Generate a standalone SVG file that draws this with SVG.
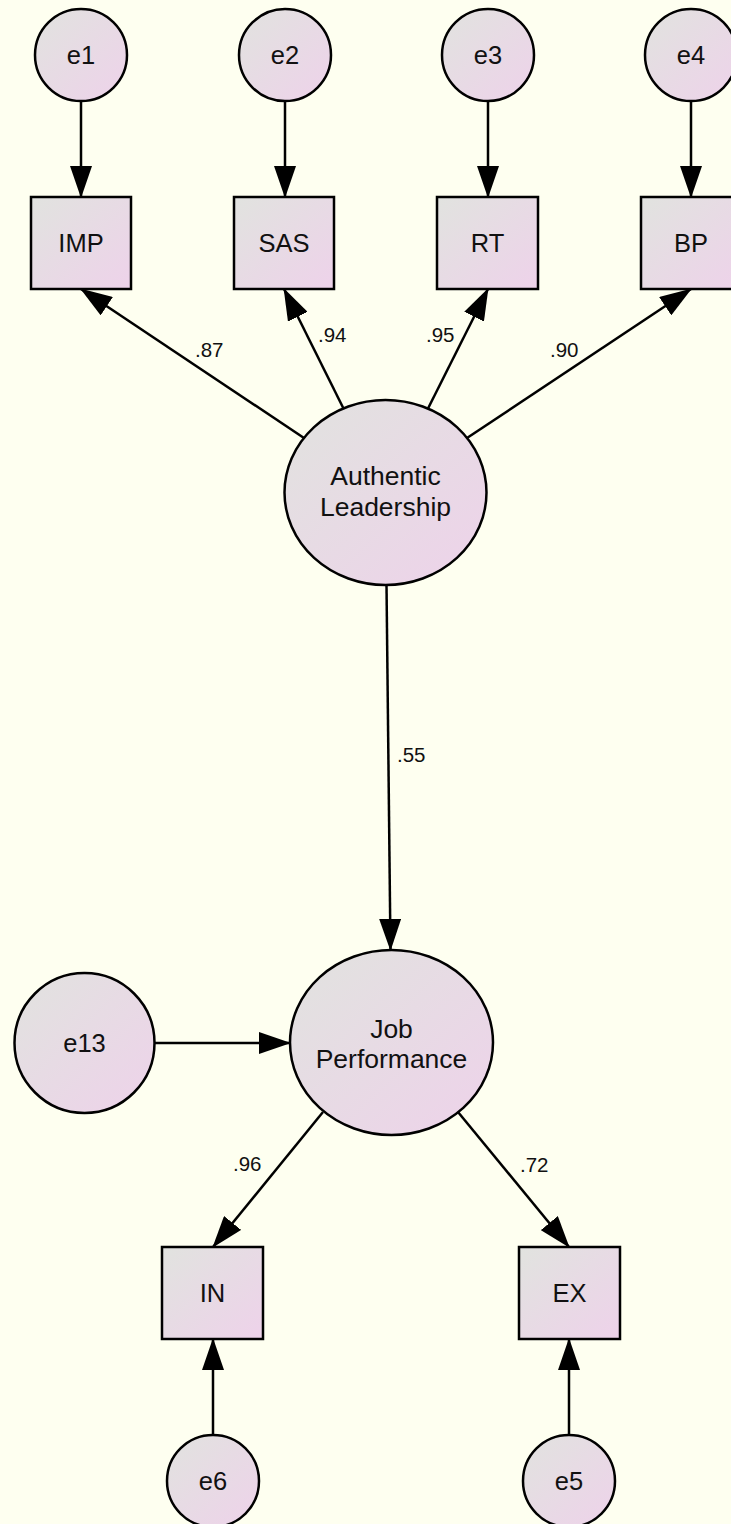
<svg xmlns="http://www.w3.org/2000/svg" width="731" height="1524" viewBox="0 0 731 1524">
<defs>
<linearGradient id="fill" x1="0" y1="0" x2="1" y2="1">
<stop offset="0" stop-color="#E1E3DF"/>
<stop offset="1" stop-color="#EED2EA"/>
</linearGradient>
<marker id="arr" markerUnits="userSpaceOnUse" markerWidth="32" markerHeight="22" viewBox="0 0 32 22" refX="31" refY="11" orient="auto">
<path d="M0,0 L32,11 L0,22 z" fill="#000"/>
</marker>
</defs>
<style>
.n{fill:url(#fill);stroke:#000;stroke-width:2.5}
.t{font-family:"Liberation Sans",Arial,sans-serif;font-size:25.5px;fill:#111;text-anchor:middle}
.lt{font-family:"Liberation Sans",Arial,sans-serif;font-size:26.5px;fill:#111;text-anchor:middle}
.w{font-family:"Liberation Sans",Arial,sans-serif;font-size:20.5px;fill:#111}
.c{stroke:#000;stroke-width:2.5;fill:none;marker-end:url(#arr)}
</style>
<rect width="731" height="1524" fill="#FEFFF0"/>
<g id="connectors">
<line class="c" x1="81" y1="101" x2="81" y2="197"/>
<line class="c" x1="285" y1="101" x2="285" y2="197"/>
<line class="c" x1="488" y1="101" x2="488" y2="197"/>
<line class="c" x1="691" y1="101" x2="691" y2="197"/>
<line class="c" x1="304" y1="438" x2="81" y2="289"/>
<line class="c" x1="343.5" y1="408.5" x2="284" y2="289"/>
<line class="c" x1="428" y1="408.5" x2="488" y2="289"/>
<line class="c" x1="467" y1="438" x2="691" y2="289"/>
<line class="c" x1="386.5" y1="585" x2="390.5" y2="950"/>
<line class="c" x1="154.5" y1="1043" x2="290" y2="1043"/>
<line class="c" x1="323" y1="1112" x2="213" y2="1247"/>
<line class="c" x1="458" y1="1112" x2="569" y2="1247"/>
<line class="c" x1="213" y1="1435" x2="213" y2="1339"/>
<line class="c" x1="569" y1="1435" x2="569" y2="1339"/>
<text class="w" x="195" y="357">.87</text>
<text class="w" x="318" y="342">.94</text>
<text class="w" x="426" y="342">.95</text>
<text class="w" x="550" y="357">.90</text>
<text class="w" x="397" y="762">.55</text>
<text class="w" x="233" y="1171">.96</text>
<text class="w" x="520" y="1172">.72</text>
</g>
<g id="e1"><circle class="n" cx="81" cy="55" r="46"/><text class="t" x="81" y="64">e1</text></g>
<g id="e2"><circle class="n" cx="285" cy="55" r="46"/><text class="t" x="285" y="64">e2</text></g>
<g id="e3"><circle class="n" cx="488" cy="55" r="46"/><text class="t" x="488" y="64">e3</text></g>
<g id="e4"><circle class="n" cx="691" cy="55" r="46"/><text class="t" x="691" y="64">e4</text></g>
<g id="IMP"><rect class="n" x="31" y="197" width="100" height="92"/><text class="t" x="81" y="252">IMP</text></g>
<g id="SAS"><rect class="n" x="234" y="197" width="100" height="92"/><text class="t" x="284" y="252">SAS</text></g>
<g id="RT"><rect class="n" x="437" y="197" width="101" height="92"/><text class="t" x="487.5" y="252">RT</text></g>
<g id="BP"><rect class="n" x="641" y="197" width="100" height="92"/><text class="t" x="691" y="252">BP</text></g>
<g id="AuthenticLeadership"><ellipse class="n" cx="385.5" cy="492.5" rx="101" ry="92.5"/><text class="lt" x="385.5" y="485">Authentic</text><text class="lt" x="385.5" y="516">Leadership</text></g>
<g id="JobPerformance"><ellipse class="n" cx="391.5" cy="1042.5" rx="101.5" ry="92.5"/><text class="lt" x="391.5" y="1038">Job</text><text class="lt" x="391.5" y="1068">Performance</text></g>
<g id="e13"><circle class="n" cx="84.5" cy="1043" r="70"/><text class="t" x="84.5" y="1052">e13</text></g>
<g id="IN"><rect class="n" x="162" y="1247" width="101" height="92"/><text class="t" x="212.5" y="1302">IN</text></g>
<g id="EX"><rect class="n" x="519" y="1247" width="101" height="92"/><text class="t" x="569.5" y="1302">EX</text></g>
<g id="e6"><circle class="n" cx="213" cy="1481" r="46"/><text class="t" x="213" y="1490">e6</text></g>
<g id="e5"><circle class="n" cx="569" cy="1481" r="46"/><text class="t" x="569" y="1490">e5</text></g>
</svg>
